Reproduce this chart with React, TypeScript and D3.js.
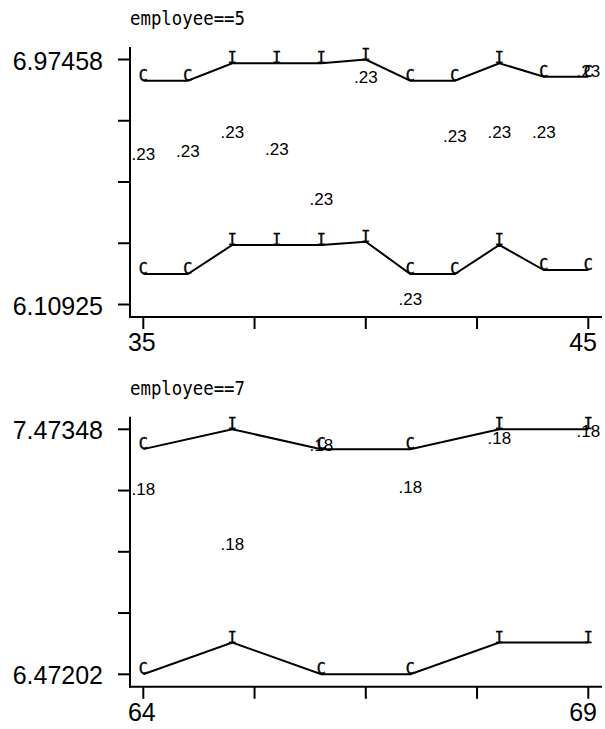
import React from 'react';
import * as d3 from 'd3';

// ---- Data ----
const panel5X = [35, 36, 37, 38, 39, 40, 41, 42, 43, 44, 45];
const panel5Upper = [6.8997, 6.8997, 6.9612, 6.9612, 6.9612, 6.97458, 6.8997, 6.8997, 6.9612, 6.9138, 6.9138];
const panel5Lower = [6.217, 6.217, 6.3194, 6.3194, 6.3194, 6.3311, 6.217, 6.217, 6.3194, 6.2311, 6.2311];
const panel5Mid = [6.6196, 6.6302, 6.6973, 6.6373, 6.4607, 6.8916, 6.10925, 6.6832, 6.6963, 6.6963, 6.9117];
const panel5Sym = ['C', 'C', 'I', 'I', 'I', 'I', 'C', 'C', 'I', 'C', 'C'];
const panel5MidLabel = '.23';
const panel5YLabels = ['6.10925', '6.97458'];
const panel5XLabels = ['35', '45'];
const panel5Title = 'employee==5';

const panel7X = [64, 65, 66, 67, 68, 69];
const panel7Upper = [7.3924, 7.47348, 7.3924, 7.3924, 7.47348, 7.47348];
const panel7Lower = [6.47202, 6.6019, 6.47202, 6.47202, 6.6019, 6.6019];
const panel7Mid = [7.2051, 6.9805, 7.3848, 7.2121, 7.4134, 7.4432];
const panel7Sym = ['C', 'I', 'C', 'C', 'I', 'I'];
const panel7MidLabel = '.18';
const panel7YLabels = ['6.47202', '7.47348'];
const panel7XLabels = ['64', '69'];
const panel7Title = 'employee==7';

const MONO = '"DejaVu Sans Mono", monospace';
const SANS = '"Liberation Sans", Arial, sans-serif';

type PanelProps = {
  oy: number;
  xs: number[];
  upper: number[];
  lower: number[];
  mid: number[];
  sym: string[];
  midLabel: string;
  yLabels: string[];
  xLabels: string[];
  title: string;
};

function Panel({ oy, xs, upper, lower, mid, sym, midLabel, yLabels, xLabels, title }: PanelProps) {
  const yMin = +yLabels[0];
  const yMax = +yLabels[1];
  const xMin = xs[0];
  const xMax = xs[xs.length - 1];
  const x = d3.scaleLinear().domain([xMin, xMax]).range([143.3, 588.3]);
  const y = d3.scaleLinear().domain([yMin, yMax]).range([304.5 + oy, 59.5 + oy]);
  const yTicks = d3.range(5).map((i) => yMin + (i * (yMax - yMin)) / 4);
  const xTicks = d3.range(5).map((i) => xMin + (i * (xMax - xMin)) / 4);
  const line = d3
    .line<number>()
    .x((_, i) => x(xs[i]))
    .y((d) => y(d));
  const axisY = 317 + oy;
  const axisX = 130;
  return (
    <g>
      <text
        x={130}
        y={25 + oy}
        fontFamily={MONO}
        fontSize={19.5}
        fill="#000"
        textLength={115}
        lengthAdjust="spacingAndGlyphs"
      >
        {title}
      </text>
      {/* axes */}
      <line x1={axisX} x2={axisX} y1={47 + oy} y2={axisY + 1} stroke="#000" strokeWidth={2} />
      <line x1={axisX - 1} x2={602} y1={axisY} y2={axisY} stroke="#000" strokeWidth={2} />
      {yTicks.map((t, i) => (
        <line key={'yt' + i} x1={118} x2={axisX} y1={y(t)} y2={y(t)} stroke="#000" strokeWidth={2} />
      ))}
      {xTicks.map((t, i) => (
        <line key={'xt' + i} x1={x(t)} x2={x(t)} y1={axisY} y2={axisY + 12} stroke="#000" strokeWidth={2} />
      ))}
      <text x={103} y={y(yMax) + 10} textAnchor="end" fontFamily={SANS} fontSize={25} fill="#000">
        {yLabels[1]}
      </text>
      <text x={103} y={y(yMin) + 10} textAnchor="end" fontFamily={SANS} fontSize={25} fill="#000">
        {yLabels[0]}
      </text>
      <text x={x(xMin) - 1.5} y={axisY + 34} textAnchor="middle" fontFamily={SANS} fontSize={25} fill="#000">
        {xLabels[0]}
      </text>
      <text x={597} y={axisY + 34} textAnchor="end" fontFamily={SANS} fontSize={25} fill="#000">
        {xLabels[1]}
      </text>
      {/* connected lines */}
      <path d={line(upper) || ''} fill="none" stroke="#000" strokeWidth={2} />
      <path d={line(lower) || ''} fill="none" stroke="#000" strokeWidth={2} />
      {/* text symbols */}
      {upper.map((v, i) => (
        <text key={'u' + i} x={x(xs[i])} y={y(v)} textAnchor="middle" fontFamily={MONO} fontSize={15} fill="#000" stroke="#000" strokeWidth={0.4}>
          {sym[i]}
        </text>
      ))}
      {lower.map((v, i) => (
        <text key={'l' + i} x={x(xs[i])} y={y(v)} textAnchor="middle" fontFamily={MONO} fontSize={15} fill="#000" stroke="#000" strokeWidth={0.4}>
          {sym[i]}
        </text>
      ))}
      {mid.map((v, i) => (
        <text key={'m' + i} x={x(xs[i])} y={y(v)} textAnchor="middle" fontFamily={SANS} fontSize={17} fill="#000">
          {midLabel}
        </text>
      ))}
    </g>
  );
}

export default function App() {
  return (
    <svg
      width={605}
      height={729}
      viewBox="0 0 605 729"
      style={{ position: 'absolute', left: 0, top: 0, display: 'block', background: '#fff' }}
    >
      <rect x={0} y={0} width={605} height={729} fill="#fff" />
      <Panel
        oy={0}
        xs={panel5X}
        upper={panel5Upper}
        lower={panel5Lower}
        mid={panel5Mid}
        sym={panel5Sym}
        midLabel={panel5MidLabel}
        yLabels={panel5YLabels}
        xLabels={panel5XLabels}
        title={panel5Title}
      />
      <Panel
        oy={369.8}
        xs={panel7X}
        upper={panel7Upper}
        lower={panel7Lower}
        mid={panel7Mid}
        sym={panel7Sym}
        midLabel={panel7MidLabel}
        yLabels={panel7YLabels}
        xLabels={panel7XLabels}
        title={panel7Title}
      />
    </svg>
  );
}
